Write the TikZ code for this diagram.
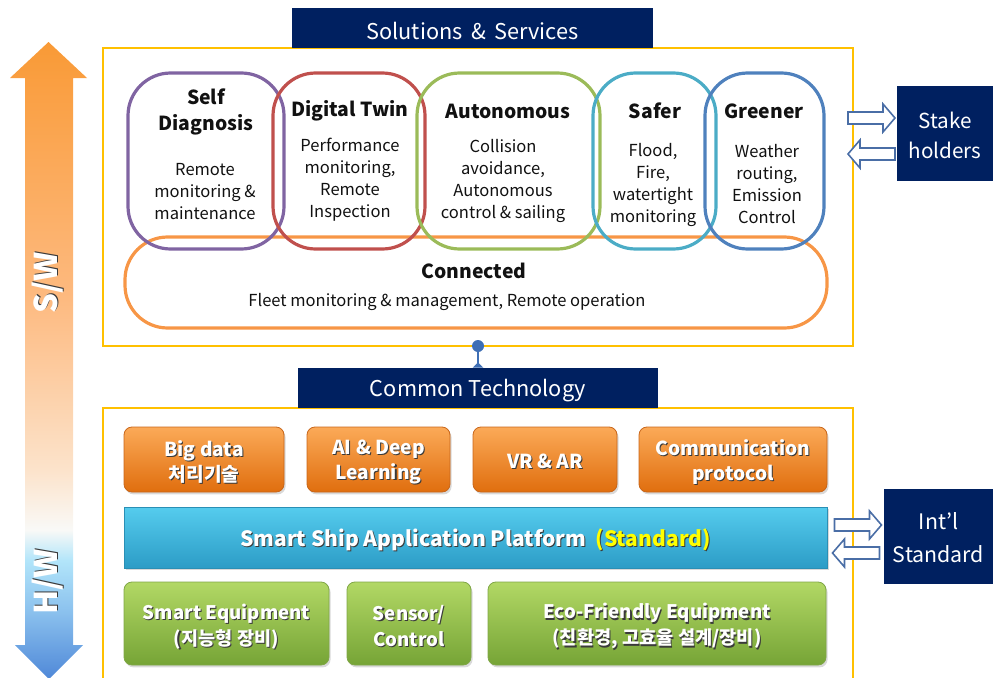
\documentclass[tikz,border=0pt]{standalone}
\usepackage{fontspec}
\setmainfont{Noto Sans CJK KR}
\usetikzlibrary{fit,shadows,arrows.meta,calc}

\definecolor{navy}{HTML}{002060}
\definecolor{yel}{HTML}{FFC000}
\definecolor{cpurple}{HTML}{8064A2}
\definecolor{cred}{HTML}{C0504D}
\definecolor{cgreen}{HTML}{9BBB59}
\definecolor{cteal}{HTML}{4BACC6}
\definecolor{cblue}{HTML}{4F81BD}
\definecolor{corange}{HTML}{F79646}
\definecolor{swT}{HTML}{F99A36}
\definecolor{swM}{HTML}{FDBA80}
\definecolor{swP}{HTML}{FCE3CB}
\definecolor{hwW}{HTML}{F9F9F7}
\definecolor{hwL}{HTML}{B2E5FA}
\definecolor{hwM}{HTML}{8CC2EE}
\definecolor{hwB}{HTML}{4F88D8}
\definecolor{orT}{HTML}{FBAA58}
\definecolor{orB}{HTML}{E06E0E}
\definecolor{orD}{HTML}{C8661A}
\definecolor{grT}{HTML}{B2D865}
\definecolor{grB}{HTML}{76A436}
\definecolor{grD}{HTML}{7FA646}
\definecolor{cyT}{HTML}{55CCEE}
\definecolor{cyB}{HTML}{2C9CC6}
\definecolor{cyD}{HTML}{2A8FB5}
\definecolor{stdyel}{HTML}{FFFF00}
\definecolor{arrline}{HTML}{4A6EA6}
\definecolor{dotblue}{HTML}{3F6FB5}
\definecolor{tshadow}{HTML}{3A3A3A}
\definecolor{ink}{HTML}{111111}

\pgfdeclareverticalshading{swhw}{100bp}{color(0bp)=(hwB); color(25bp)=(hwB); color(30.4bp)=(hwM); color(34.3bp)=(hwL); color(36.7bp)=(hwW); color(41.4bp)=(swP); color(54.8bp)=(swM); color(75bp)=(swT); color(100bp)=(swT)}

\newcommand\tsc[2]{\leavevmode\rlap{\kern0.8pt\raisebox{-0.8pt}{\color{tshadow}#2}}{\color{#1}#2}}
\newcommand\ts[1]{\tsc{white}{#1}}

\begin{document}
\begin{tikzpicture}[x=0.75pt,y=-0.75pt,
  ring/.style={draw=#1, line width=2.4pt, rounded corners=32pt, inner sep=0pt},
  frame/.style={draw=yel, line width=2.2pt, inner sep=0pt},
  banner/.style={fill=navy, inner sep=0pt},
  bannertext/.style={text=white, inner sep=0pt, yshift=-2pt, font=\fontsize{16.3}{20}\selectfont},
  sidebox/.style={fill=navy, inner sep=0pt},
  sidetext/.style={text=white, inner sep=0pt, align=center, yshift=-1.2pt},
  ttl/.style={font=\bfseries\fontsize{14.5}{19.5}\selectfont, text=ink, align=center, inner sep=0pt, yshift=-1.5pt},
  body/.style={font=\fontsize{12.4}{16.5}\selectfont, text=ink, align=center, inner sep=0pt},
  boxshadow/.style={drop shadow={shadow xshift=1.2pt, shadow yshift=-1.8pt, opacity=0.3}},
  obox/.style={rounded corners=6pt, top color=orT, bottom color=orB, draw=orD, line width=0.6pt, boxshadow, inner sep=0pt},
  gbox/.style={rounded corners=6pt, top color=grT, bottom color=grB, draw=grD, line width=0.6pt, boxshadow, inner sep=0pt},
  cbox/.style={top color=cyT, bottom color=cyB, draw=cyD, line width=0.6pt, boxshadow, inner sep=0pt},
  otext/.style={inner sep=0pt, align=center, yshift=-2pt, font=\bfseries\fontsize{14.4}{18.75}\selectfont},
  gtext/.style={inner sep=0pt, align=center, yshift=-2.5pt, font=\bfseries\fontsize{14}{19.5}\selectfont},
  ctext/.style={inner sep=0pt, yshift=-2pt, font=\bfseries\fontsize{15.8}{20}\selectfont},
  harrowline/.style={draw=arrline, fill=white, line width=1.2pt, line join=miter},
  pics/harrow/.style={code={\draw[harrowline] (-23.5,-6) -- (11.5,-6) -- (11.5,-14) -- (23.5,0) -- (11.5,14) -- (11.5,6) -- (-23.5,6) -- cycle;}},
  vtext/.style={rotate=90, font=\bfseries\fontsize{23.5}{26}\selectfont, inner sep=0pt}
]
\useasboundingbox (0,0) rectangle (993,678);

% S/W -- H/W arrow
\shade[shading=swhw] (48.5,42) -- (87,78) -- (73,78) -- (73,645) -- (83,645) -- (49,679) -- (15,645) -- (25,645) -- (25,78) -- (10,78) -- cycle;
\node[vtext] (sw) at (48.5,283) {\ts{S/W}};
\node[vtext] (hw) at (48.5,582) {\ts{H/W}};

% top frame
\node[frame, fit={(103,48) (853,346)}] (ssframe) {};
\node[banner, fit={(292,8) (653,48)}] (ss) {};
\node[bannertext] (ssT) at (ss.center) {Solutions \,\&\, Services};

% rings
\node[ring=corange, fit={(125,237) (827,328)}] (cn) {};
\node[ring=cpurple, fit={(128,73) (284,249)}] (sd) {};
\node[ring=cred, fit={(273,73) (425,249)}] (dt) {};
\node[ring=cgreen, fit={(417,73) (600,249)}] (au) {};
\node[ring=cteal, fit={(593,73) (716,249)}] (sa) {};
\node[ring=cblue, fit={(705,73) (824,249)}] (gr) {};

\node[ttl] (sdT) at (206,110) {Self\\Diagnosis};
\node[body] (sdB) at (205,192) {Remote\\monitoring \&\\maintenance};
\node[ttl] (dtT) at (350,109) {Digital Twin};
\node[body] (dtB) at (350,180) {Performance\\monitoring,\\Remote\\Inspection};
\node[ttl] (auT) at (508,109) {Autonomous};
\node[body] (auB) at (503,181) {Collision\\avoidance,\\Autonomous\\control \& sailing};
\node[ttl] (saT) at (655,109) {Safer};
\node[body] (saB) at (653,184.5) {Flood,\\Fire,\\watertight\\monitoring};
\node[ttl] (grT) at (764,109) {Greener};
\node[body] (grB) at (767,184.5) {Weather\\routing,\\Emission\\Control};
\node[ttl] (cnT) at (474,269) {Connected};
\node[body] (cnB) at (447,302) {Fleet monitoring \& management, Remote operation};

% stakeholders
\node[sidebox, fit={(897,86) (993,181)}] (stake) {};
\node[sidetext, font=\fontsize{15.5}{22.5}\selectfont] (stakeT) at (stake.center) {Stake\\holders};
\pic (a1) at (871.5,118) {harrow};
\pic[xscale=-1] (a2) at (871.5,154) {harrow};

% connector
\node[circle, fill=dotblue, inner sep=0pt, minimum size=9pt] (cdot) at (478,346) {};

% bottom frame
\draw[yel, line width=2.2pt] (103,690) -- (103,408) -- (853,408) -- (853,690);
\node[banner, fit={(298,368) (658,408)}] (ct) {};
\node[bannertext] (ctT) at (ct.center) {Common Technology};
\draw[dotblue, line width=2.2pt, -{Triangle[reversed, length=4pt, width=8pt]}] (cdot.center) -- (cdot.center |- ct.north);

% orange boxes
\node[obox, fit={(124,427) (284,492)}] (bd) {};
\node[otext] (bdT) at (bd.center) {\ts{Big data}\\\ts{처리기술}};
\node[obox, fit={(307,427) (450,492)}] (ai) {};
\node[otext] (aiT) at (ai.center) {\ts{AI \& Deep}\\\ts{Learning}};
\node[obox, fit={(473,427) (617,492)}] (vr) {};
\node[otext] (vrT) at (vr.center) {\ts{VR \& AR}};
\node[obox, fit={(639,427) (827,492)}] (cp) {};
\node[otext] (cpT) at (cp.center) {\ts{Communication}\\\ts{protocol}};

% platform
\node[cbox, fit={(124,507) (827,568)}] (sp) {};
\node[ctext] (spT) at (sp.center) {\leavevmode\rlap{\kern0.8pt\raisebox{-0.8pt}{\color{tshadow}Smart Ship Application Platform\ \ (Standard)}}{\color{white}Smart Ship Application Platform}\ \ {\color{stdyel}(Standard)}};

% green boxes
\node[gbox, fit={(124,582) (329,665)}] (se) {};
\node[gtext] (seT) at (se.center) {\ts{Smart Equipment}\\\ts{(지능형 장비)}};
\node[gbox, fit={(347,582) (471,665)}] (sc) {};
\node[gtext] (scT) at (sc.center) {\ts{Sensor/}\\\ts{Control}};
\node[gbox, fit={(488,582) (826,665)}] (ef) {};
\node[gtext] (efT) at (ef.center) {\ts{Eco-Friendly Equipment}\\\ts{(친환경, 고효율 설계/장비)}};

% international standard
\node[sidebox, fit={(884,489) (993,584)}] (intl) {};
\node[sidetext, font=\fontsize{16}{24.75}\selectfont] (intlT) at (intl.center) {Int’l\\Standard};
\pic (a3) at (858,525) {harrow};
\pic[xscale=-1] (a4) at (856,553) {harrow};
\end{tikzpicture}
\end{document}
